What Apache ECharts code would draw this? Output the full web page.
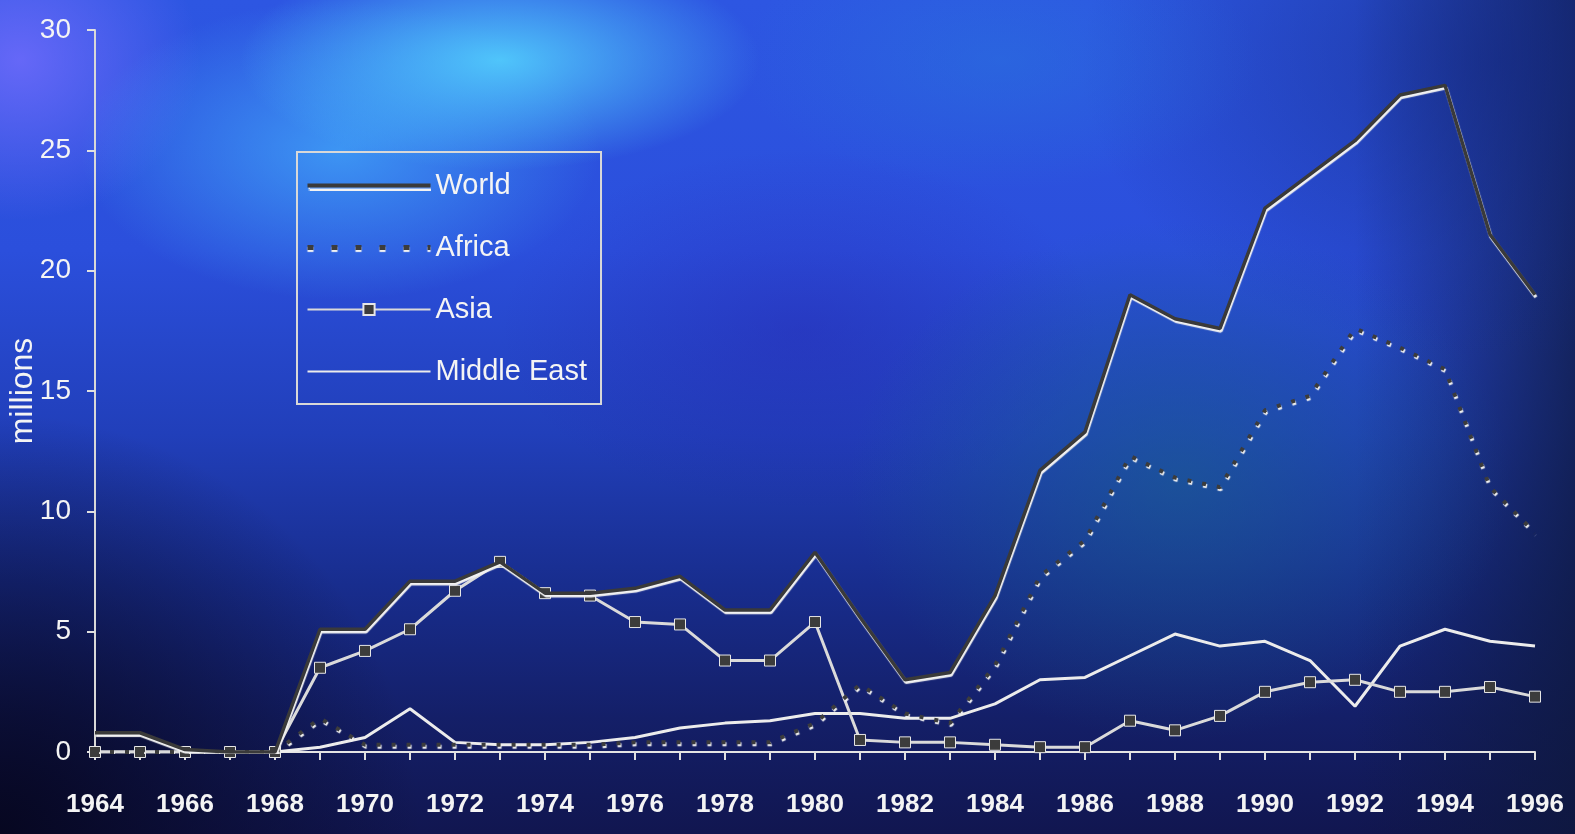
<!DOCTYPE html>
<html>
<head>
<meta charset="utf-8">
<script src="https://cdn.jsdelivr.net/npm/echarts@6/dist/echarts.min.js"></script>
<style>
html,body{margin:0;padding:0;width:1575px;height:834px;overflow:hidden;}
body{
background:
 radial-gradient(ellipse 260px 110px at 500px 60px, rgba(85,215,255,0.85), rgba(85,215,255,0) 100%),
 radial-gradient(ellipse 260px 150px at 340px 150px, rgba(70,185,255,0.65), rgba(70,185,255,0) 100%),
 radial-gradient(ellipse 180px 160px at 20px 60px, rgba(120,110,255,0.75), rgba(120,110,255,0) 100%),
 radial-gradient(ellipse 330px 260px at 1180px 480px, rgba(25,100,140,0.55), rgba(25,100,140,0) 100%),
 radial-gradient(ellipse 260px 130px at 1000px 60px, rgba(40,120,220,0.45), rgba(40,120,220,0) 100%),
 radial-gradient(ellipse 420px 300px at 1500px 60px, rgba(20,40,130,0.6), rgba(20,40,130,0) 100%),
 radial-gradient(ellipse 300px 180px at 800px 330px, rgba(40,30,170,0.35), rgba(40,30,170,0) 100%),
 radial-gradient(ellipse 420px 420px at 0px 834px, rgba(6,6,30,0.95), rgba(6,6,30,0) 100%),
 linear-gradient(to left, rgba(14,24,60,0.75) 0%, rgba(14,24,60,0) 14%),
 linear-gradient(to bottom, #2d56e2 0%, #2b4fdc 30%, #213fba 52%, #182d8e 70%, #141f68 86%, #111650 100%);
}
#chart{position:absolute;left:0;top:0;width:1575px;height:834px;}
</style>
</head>
<body>
<div id="chart"></div>
<script>
// ---- data ----
const years = ['1964','1965','1966','1967','1968','1969','1970','1971','1972','1973','1974','1975','1976','1977','1978','1979','1980','1981','1982','1983','1984','1985','1986','1987','1988','1989','1990','1991','1992','1993','1994','1995','1996'];
const seriesNames = ['World','Africa','Asia','Middle East'];
const world      = [0.8,0.8,0.1,0,0,5.1,5.1,7.1,7.1,7.9,6.6,6.6,6.8,7.3,5.9,5.9,8.3,5.6,3.0,3.3,6.5,11.7,13.3,19.0,18.0,17.6,22.6,24.0,25.4,27.3,27.7,21.5,19.0];
const africa     = [0,0,0,0,0,1.4,0.3,0.3,0.3,0.3,0.3,0.3,0.4,0.4,0.4,0.4,1.2,2.8,1.6,1.2,3.6,7.3,8.8,12.3,11.4,11.0,14.2,14.8,17.6,16.8,15.9,11.0,9.1];
const asia       = [0,0,0,0,0,3.5,4.2,5.1,6.7,7.9,6.6,6.5,5.4,5.3,3.8,3.8,5.4,0.5,0.4,0.4,0.3,0.2,0.2,1.3,0.9,1.5,2.5,2.9,3.0,2.5,2.5,2.7,2.3];
const middleEast = [0,0,0,0,0,0.2,0.6,1.8,0.4,0.3,0.3,0.4,0.6,1.0,1.2,1.3,1.6,1.6,1.4,1.4,2.0,3.0,3.1,4.0,4.9,4.4,4.6,3.8,1.9,4.4,5.1,4.6,4.4];
const yTicks = [0,5,10,15,20,25,30];
const yName = 'millions';

const FONT = 'Liberation Sans, Arial, sans-serif';
const txtShadow = {textShadowColor:'rgba(40,40,40,0.9)', textShadowOffsetX:1, textShadowOffsetY:1, textShadowBlur:0};
const hideSym = {opacity:0};

const chart = echarts.init(document.getElementById('chart'), null, {renderer:'canvas'});
chart.setOption({
  backgroundColor:'transparent',
  animation:false,
  grid:{left:95, right:40, top:30, bottom:82, containLabel:false, outerBoundsMode:'none'},
  legend:{
    data:[
      {name:seriesNames[0], itemStyle:hideSym, lineStyle:{shadowColor:'#f2f2f2', shadowBlur:1, shadowOffsetY:3, width:4}},
      {name:seriesNames[1], itemStyle:hideSym, lineStyle:{shadowColor:'#f2f2f2', shadowBlur:1, shadowOffsetY:2, width:5, type:[6,18]}},
      {name:seriesNames[2]},
      {name:seriesNames[3], itemStyle:hideSym}
    ],
    orient:'vertical',
    left:297, top:152,
    padding:[19,14,18,8],
    itemGap:33,
    itemWidth:123,
    itemHeight:14,
    borderColor:'#d8d8d8',
    borderWidth:2,
    textStyle:Object.assign({color:'#f4f4f4', fontSize:29, fontFamily:FONT}, txtShadow)
  },
  xAxis:{
    type:'category',
    data:years,
    boundaryGap:false,
    axisLine:{lineStyle:{color:'#e4e4e4', width:2}},
    axisTick:{show:true, interval:0, length:8, lineStyle:{color:'#e0e0e0', width:2}},
    axisLabel:Object.assign({interval:1, color:'#f4f4f4', fontSize:26, fontWeight:'bold', fontFamily:FONT, margin:40}, txtShadow),
    splitLine:{show:false}
  },
  yAxis:{
    type:'value',
    min:yTicks[0], max:yTicks[yTicks.length-1], interval:5,
    name:yName,
    nameLocation:'middle',
    nameRotate:90,
    nameGap:56,
    nameMoveOverlap:false,
    nameTextStyle:Object.assign({color:'#f4f4f4', fontSize:32, fontFamily:FONT}, txtShadow),
    axisLine:{show:true, lineStyle:{color:'#d8d8d8', width:2}},
    axisTick:{show:true, length:8, lineStyle:{color:'#e0e0e0', width:2}},
    axisLabel:Object.assign({color:'#f4f4f4', fontSize:28, fontFamily:FONT, margin:24}, txtShadow),
    splitLine:{show:false}
  },
  series:[
    {
      name:'Middle East', type:'line', data:middleEast, symbol:'none', z:2,
      itemStyle:{color:'#ececec'},
      lineStyle:{color:'#ececec', width:3}
    },
    {
      name:'Asia', type:'line', data:asia, symbol:'rect', symbolSize:11, showSymbol:true, z:3,
      itemStyle:{color:'#3c3c3c', borderColor:'#e6e6e6', borderWidth:1},
      lineStyle:{color:'#dadada', width:3}
    },
    {
      name:'Africa', type:'line', data:africa, symbol:'none', z:4,
      itemStyle:{color:'#3c3c3c'},
      lineStyle:{color:'#3c3c3c', width:4, type:[4,11], shadowColor:'#f2f2f2', shadowBlur:1, shadowOffsetX:1, shadowOffsetY:2}
    },
    {
      name:'World', type:'line', data:world, symbol:'none', z:5,
      itemStyle:{color:'#3a3a3a'},
      lineStyle:{color:'#3a3a3a', width:3.5, shadowColor:'#f2f2f2', shadowBlur:1, shadowOffsetX:1, shadowOffsetY:2.5}
    }
  ]
});
</script>
</body>
</html>
